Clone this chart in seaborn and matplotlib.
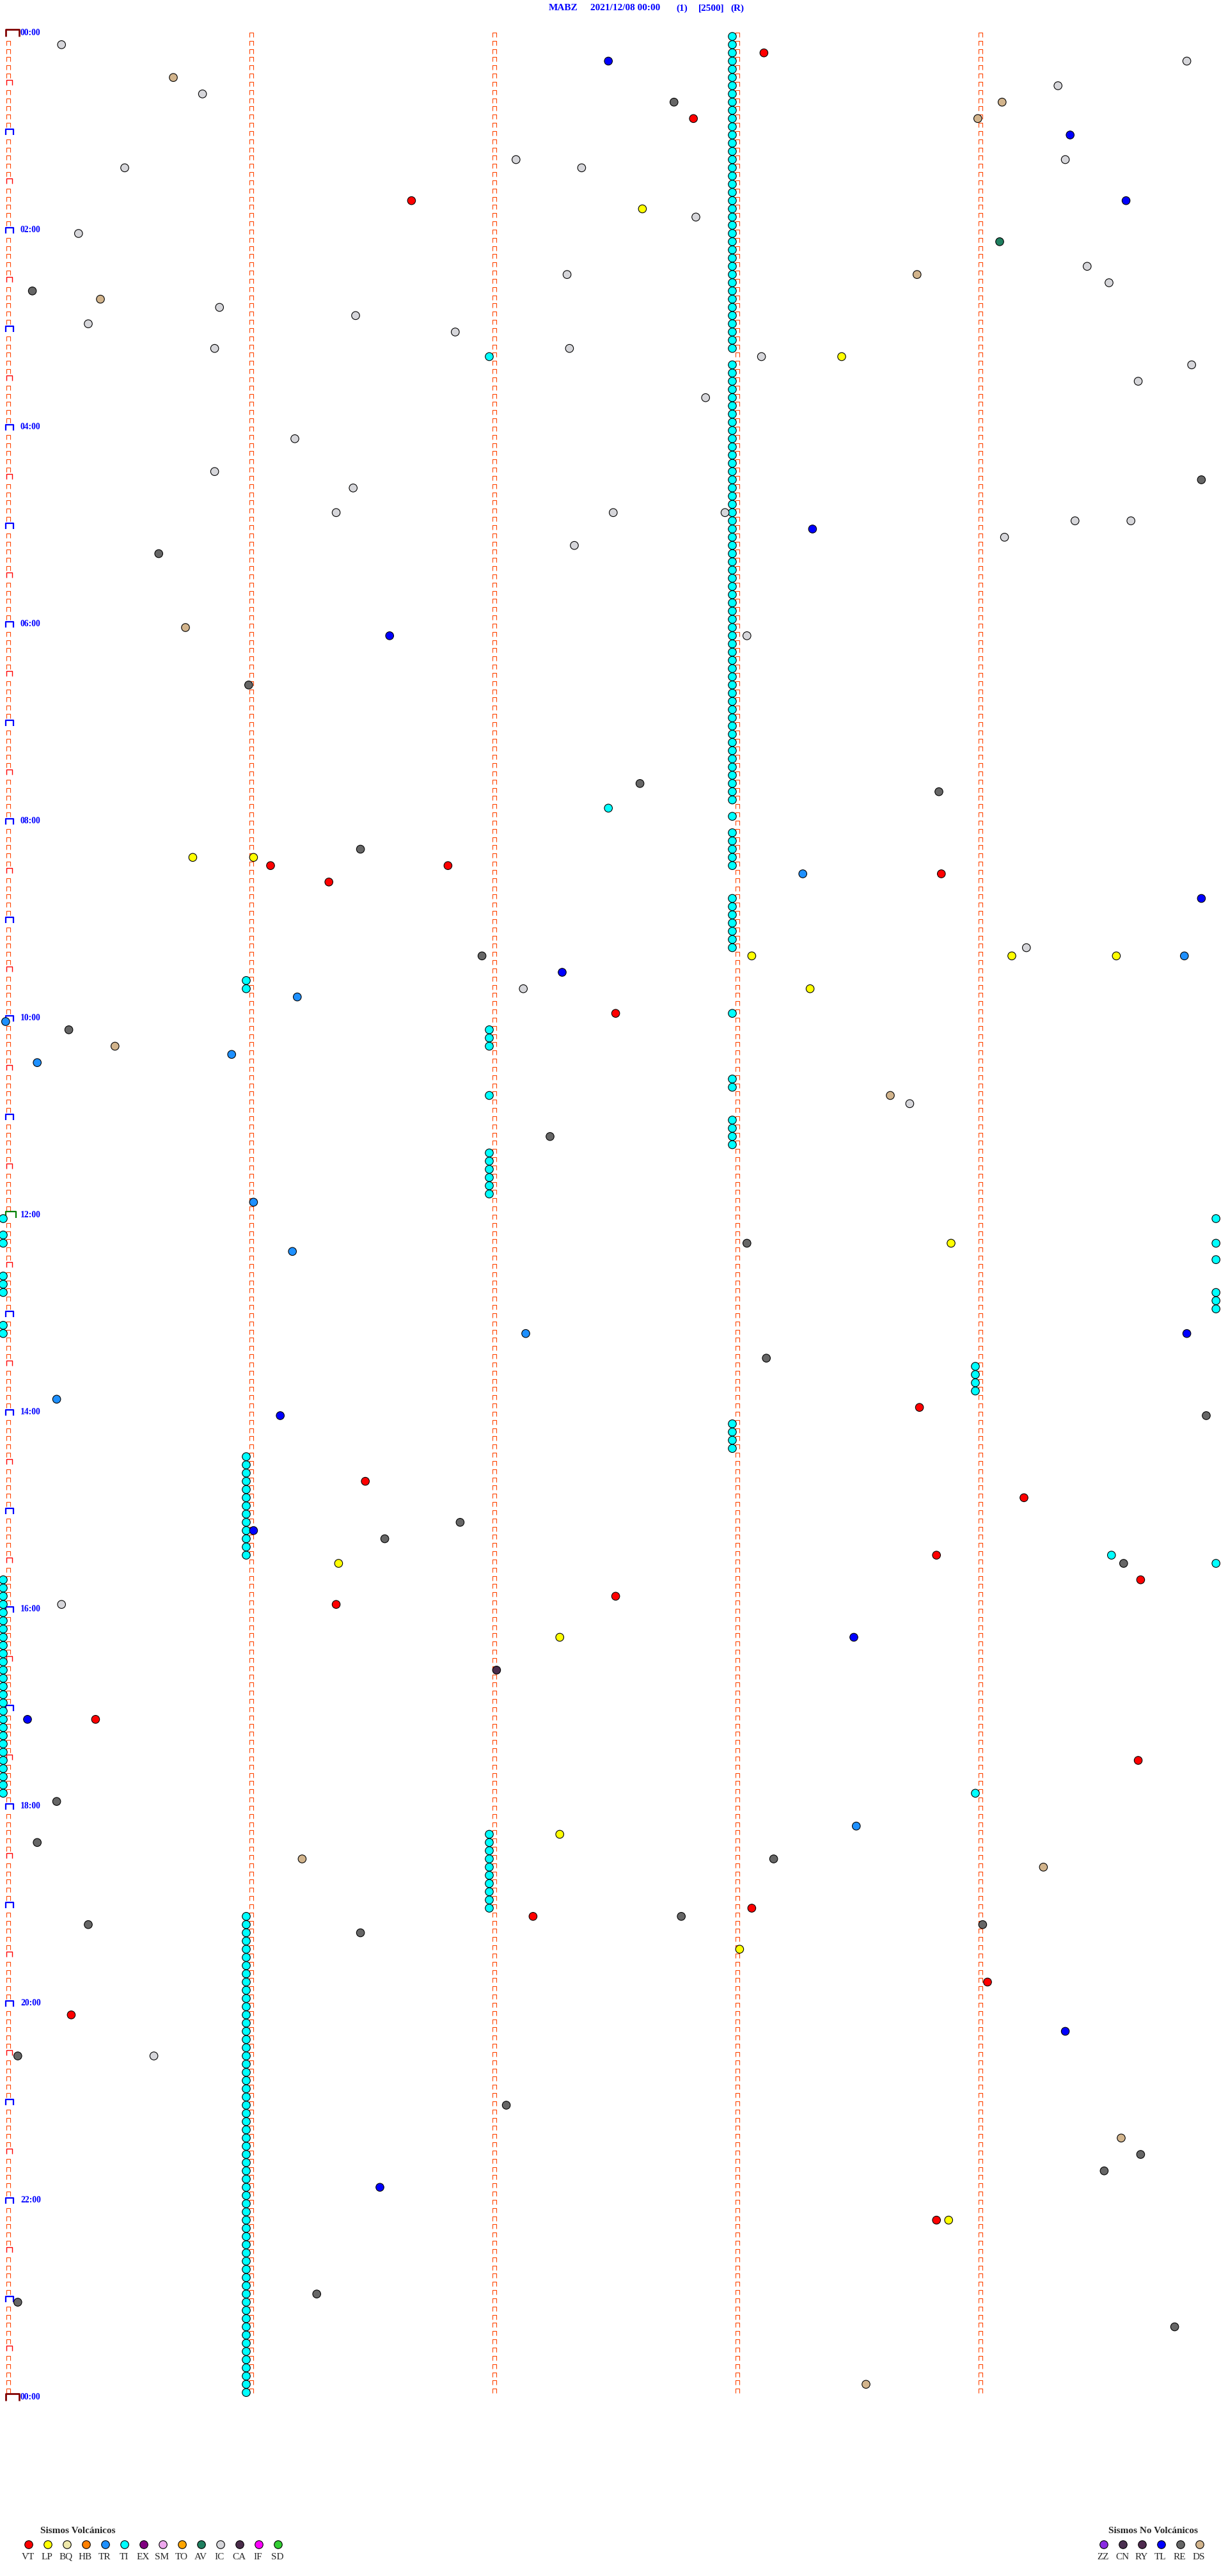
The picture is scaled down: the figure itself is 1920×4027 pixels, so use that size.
import pandas as pd
import seaborn as sns
import matplotlib.pyplot as plt
from matplotlib.path import Path

# Event times in minutes after 00:00 (each helicorder row holds 5 minutes)
ti_times = [
    3, 8, 13, 18, 23, 28, 33, 38, 43, 48, 53, 58, 63, 68, 73, 78, 83, 88, 93, 98,
    103, 108, 113, 118, 123, 128, 133, 138, 143, 148, 153, 158, 163, 168, 173, 178, 183, 188, 193,
    197,
    203, 208, 213, 218, 223, 228, 233, 238, 243, 248, 253, 258, 263, 268, 273, 278, 283, 288, 293, 298,
    303, 308, 313, 318, 323, 328, 333, 338, 343, 348, 353, 358, 363, 368, 373, 378, 383, 388, 393, 398,
    403, 408, 413, 418, 423, 428, 433, 438, 443, 448, 453, 458, 463, 468,
    472.49, 478, 488, 493, 498, 503, 508, 528, 533, 538, 543, 548, 553, 558,
    576, 581, 598, 607, 612, 617, 638, 643, 647, 663, 668, 673, 678,
    682, 687, 692, 697, 702, 707,
    720, 724.99, 730, 735, 739.99, 749.99, 755, 760, 765, 769.99, 774.99, 779.99, 785, 790,
    814, 819, 824, 829, 848, 853, 858, 863,
    866, 871, 876, 881, 886, 891, 896, 901, 906, 911, 916, 921, 926, 929.56, 934.99,
    940, 945, 950, 955, 960, 965, 970, 975, 980, 985, 990, 995, 1000, 1005, 1010, 1015,
    1020, 1025, 1030, 1035, 1040, 1045, 1050, 1055, 1060, 1065, 1070, 1074,
    1097, 1102, 1107, 1112, 1117, 1122, 1127, 1132, 1137, 1142,
    1146, 1151, 1156, 1161, 1166, 1171, 1176, 1181, 1186, 1191, 1196, 1201, 1206, 1211, 1216,
    1221, 1226, 1231, 1236, 1241, 1246, 1251, 1256, 1261, 1266, 1271, 1276, 1281, 1286, 1291,
    1296, 1301, 1306, 1311, 1316, 1321, 1326, 1331, 1336, 1341, 1346, 1351, 1356, 1361, 1366,
    1371, 1376, 1381, 1386, 1391, 1396, 1401, 1406, 1411, 1416, 1421, 1426, 1431, 1436,
]
vt_times = [13.13, 52.84, 101.68, 506.10, 506.83, 516.34, 513.86, 597.52, 838.77, 881.49,
            894.20, 928.84, 944.68, 956.37, 952.52, 1025.38, 1054.67, 1143.08, 1147.18,
            1189.05, 1205.28, 1333.84]
lp_times = [107.63, 198.45, 500.78, 501.03, 563.08, 564.15, 564.58, 583.32, 738.90,
            931.38, 977.29, 1097.29, 1168.03, 1333.89]
tr_times = [513.29, 564.86, 586.21, 600.01, 620.94, 625.14, 711.03, 741.19, 792.15,
            830.22, 1093.51]
tl_times = [17.49, 64.39, 104.62, 303.33, 366.59, 529.93, 572.30, 794.87, 841.14,
            911.03, 978.50, 1025.10, 1219.37, 1311.55]
av_times = [129.10]
ds_times = [25.70, 44.11, 54.01, 148.76, 160.40, 360.75, 615.46, 648.65, 1111.23,
            1119.28, 1284.60, 1433.55]
ic_times = [5.24, 19.87, 34.34, 35.82, 79.37, 77.11, 80.50, 82.38, 112.85, 120.31,
            144.46, 147.32, 154.55, 165.89, 171.45, 175.35, 181.86, 190.87, 192.33,
            198.12, 204.89, 214.67, 222.89, 246.20, 265.87, 276.44, 291.37, 292.51,
            292.97, 299.41, 299.64, 309.12, 312.35, 368.06, 559.21, 582.14, 653.73,
            955.24, 1230.62]
re_times = [42.76, 155.12, 274.93, 315.64, 396.01, 457.62, 463.85, 496.47, 561.97,
            605.27, 672.25, 738.06, 808.14, 844.95, 906.88, 916.57, 934.61, 1075.22,
            1100.14, 1113.17, 1147.79, 1150.35, 1156.47, 1154.03, 1230.06, 1262.07,
            1294.68, 1304.53, 1376.29, 1380.06, 1399.82]
ca_times = [997.03]

volc_types = ['VT', 'LP', 'BQ', 'HB', 'TR', 'TI', 'EX', 'SM', 'TO', 'AV', 'IC', 'CA', 'IF', 'SD']
volc_colors = ['#FF0000', '#FFFF00', '#EEE8AA', '#FF8000', '#1E90FF', '#00FFFF', '#800080',
               '#EEA8EE', '#FFA500', '#1F7F5F', '#D6D6DA', '#4A2C4A', '#FF00FF', '#32CD32']
novolc_types = ['ZZ', 'CN', 'RY', 'TL', 'RE', 'DS']
novolc_colors = ['#8A2BE2', '#4B3050', '#4E2A4E', '#0000FF', '#666666', '#D2B48C']

title_parts = ['MABZ', '2021/12/08 00:00', '(1)', '[2500]', '(R)']

palette = dict(zip(volc_types + novolc_types, volc_colors + novolc_colors))

# Build event table
series = [('TI', ti_times), ('IC', ic_times), ('DS', ds_times), ('RE', re_times),
          ('CA', ca_times), ('AV', av_times), ('TR', tr_times), ('TL', tl_times),
          ('LP', lp_times), ('VT', vt_times)]
df = pd.concat([pd.DataFrame({'type': t, 'time': v}) for t, v in series], ignore_index=True)
df['row'] = (df['time'] // 5).astype(int)
df['offset'] = df['time'] - df['row'] * 5

sns.set_style('white')
plt.rcParams['font.family'] = ['Liberation Serif', 'DejaVu Serif']

W, H = 1920, 4027
PX_MIN = 380.0            # pixels per minute
PX_ROW = 3696.0 / 288     # pixels per row
X0, Y0 = 5.0, 57.0        # pixel of minute 0, row 0

fig = plt.figure(figsize=(W / 100, H / 100), dpi=100)
ax = fig.add_axes([0, 0, 1, 1])


def dx(px):
    return px / PX_MIN


def dy(px):
    return px / PX_ROW


def bracket(w, h):
    return Path([(-w / 2, -h / 2), (-w / 2, h / 2), (w / 2, h / 2), (w / 2, -h / 2)],
                [Path.MOVETO, Path.LINETO, Path.LINETO, Path.LINETO])


# minute ticks on every row
for k in range(5):
    rows = [r for r in range(288) if k > 0 or r % 6 != 0]
    ax.plot([k + dx(8)] * len(rows), [r - dy(3) for r in rows], ls='none',
            marker=bracket(6, 7), ms=7 * 0.72, mfc='none', mec='#FF4500', mew=0.8, zorder=2)

half = [r for r in range(288) if r % 12 == 6]
ax.plot([dx(9.5)] * len(half), [r - dy(5) for r in half], ls='none', marker=bracket(9, 8),
        ms=9 * 0.72, mfc='none', mec='#FF0000', mew=1.0, zorder=2)
hours = [r for r in range(12, 288, 12) if r != 144]
ax.plot([dx(10)] * len(hours), [r - dy(4.5) for r in hours], ls='none', marker=bracket(12, 9),
        ms=12 * 0.72, mfc='none', mec='#0000FF', mew=1.6, zorder=2)
ax.plot([dx(12)], [144 - dy(5.5)], ls='none', marker=bracket(16, 10),
        ms=16 * 0.72, mfc='none', mec='#008000', mew=1.6, zorder=2)
ax.plot([dx(14.5)] * 2, [0 - dy(5.5), 288 - dy(5.5)], ls='none', marker=bracket(21, 11),
        ms=21 * 0.72, mfc='none', mec='#800000', mew=2.0, zorder=2)

for r in range(0, 289, 24):
    ax.text(dx(27), r - dy(5.7), f"{(r // 12) % 24:02d}:00", color='#0000FF',
            fontsize=9.8, fontweight='bold', ha='left', va='center')

# events
sns.scatterplot(data=df, x='offset', y='row', hue='type', palette=palette, s=81,
                edgecolor='black', linewidth=0.8, legend=False, ax=ax, zorder=3)

ax.set_xlim(-X0 / PX_MIN, (W - X0) / PX_MIN)
ax.set_ylim((H - Y0) / PX_ROW, -Y0 / PX_ROW)
ax.axis('off')

# title
for txt, px in zip(title_parts, [858, 923, 1057, 1092, 1142]):
    fig.text(px / W, 1 - 13 / H, txt, color='#0000FF', fontsize=11, fontweight='bold',
             ha='left', va='center')

# legends
def key(names, colors, x_start, title, title_x):
    fig.text(title_x / W, 1 - 3957 / H, title, fontsize=11, fontweight='bold',
             ha='left', va='center')
    xs = [(x_start + 30 * i) / W for i in range(len(names))]
    ax.scatter(xs, [1 - 3978 / H] * len(xs), s=81, c=colors, edgecolors='black',
               linewidths=0.8, transform=fig.transFigure, clip_on=False, zorder=4)
    for x, n in zip(xs, names):
        fig.text(x - 1.5 / W, 1 - 3997 / H, n, fontsize=11, ha='center', va='center')


key(volc_types, volc_colors, 45, 'Sismos Volcánicos', 63)
key(novolc_types, novolc_colors, 1726, 'Sismos No Volcánicos', 1733)

fig.savefig('out.png', dpi=100, facecolor='white')
